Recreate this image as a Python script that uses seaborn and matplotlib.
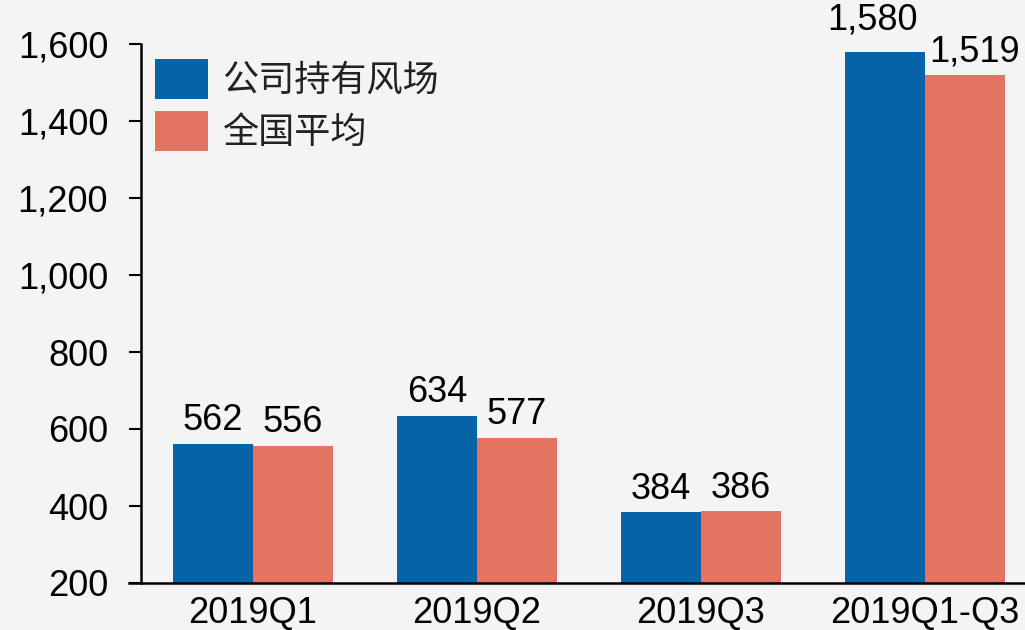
import matplotlib
matplotlib.use("Agg")
import matplotlib.pyplot as plt
import seaborn as sns
import pandas as pd

categories = ["2019Q1", "2019Q2", "2019Q3", "2019Q1-Q3"]
series_names = ["公司持有风场", "全国平均"]
company_values = [562, 634, 384, 1580]
national_values = [556, 577, 386, 1519]
y_ticks = [200, 400, 600, 800, 1000, 1200, 1400, 1600]
colors = ["#0563A8", "#E37461"]

sns.set_theme(style="white")
plt.rcParams["font.family"] = ["Liberation Sans", "Noto Sans CJK SC", "DejaVu Sans"]

df = pd.DataFrame({
    "category": categories * 2,
    "series": [series_names[0]] * len(categories) + [series_names[1]] * len(categories),
    "value": company_values + national_values,
})

W, H = 1025, 630
fig = plt.figure(figsize=(W / 100, H / 100), dpi=100)
bg = "#F4F4F4"
fig.patch.set_facecolor(bg)

ax_left = 141 / W
ax_right = 1037 / W
ax_bottom = (H - 583) / H
ax = fig.add_axes([ax_left, ax_bottom, ax_right - ax_left, 1 - ax_bottom])
ax.set_facecolor("none")

sns.barplot(data=df, x="category", y="value", hue="series", order=categories,
            hue_order=series_names, palette=colors, width=0.715, saturation=1,
            linewidth=0, ax=ax)

ax.set_xlim(-0.5, 3.5)
ax.set_ylim(200, 1600 + 44 / 0.385)
ax.set_yticks(y_ticks)
ax.set_yticklabels([f"{v:,}" for v in y_ticks])
ax.set_xlabel("")
ax.set_ylabel("")

for s in ["top", "right"]:
    ax.spines[s].set_visible(False)
for s in ["left", "bottom"]:
    ax.spines[s].set_color("black")
    ax.spines[s].set_linewidth(1.8)
ax.spines["left"].set_bounds(y_ticks[0], y_ticks[-1])
ax.spines["bottom"].set_bounds(ax.get_xlim()[0] - 0.055, ax.get_xlim()[1])
ax.spines["bottom"].set_clip_on(False)

ax.tick_params(axis="y", which="major", direction="out", length=8.6, width=1.5,
               color="black", labelsize=26, pad=15, left=True)
ax.tick_params(axis="x", which="major", length=0, labelsize=26, pad=9)
for lbl in ax.get_xticklabels() + ax.get_yticklabels():
    lbl.set_color("black")

for ci, container in enumerate(ax.containers):
    texts = ax.bar_label(container, labels=[f"{v:,.0f}" for v in container.datavalues],
                         fontsize=26, padding=4, color="black")
    # the last group's labels are nudged apart in the reference
    last = texts[-1]
    if ci == 0:
        last.set_position((-9, 10))
    else:
        last.set_position((7, 4))

handles, labels = ax.get_legend_handles_labels()
leg = ax.legend(handles, labels, loc="upper left",
                bbox_to_anchor=(155 / W, 1 - 59 / H), bbox_transform=fig.transFigure,
                frameon=False, fontsize=26, handlelength=1.47, handleheight=1.327,
                handletextpad=0.4, labelspacing=0.32, borderpad=0, borderaxespad=0)
for t in leg.get_texts():
    t.set_fontfamily(["Noto Sans CJK SC", "DejaVu Sans"])
    t.set_fontweight("light")
    t.set_color("#222222")

fig.savefig("out.png", dpi=100, facecolor=bg)
